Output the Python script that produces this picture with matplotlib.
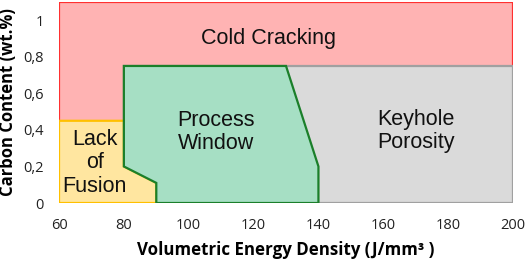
import matplotlib
matplotlib.use("Agg")
import matplotlib.pyplot as plt
from matplotlib.patches import Polygon

# region outlines (energy density J/mm3, carbon wt.%)
cold_x = [60, 200, 200, 60]
cold_y = [0, 0, 1.1, 1.1]
keyhole_x = [80, 200, 200, 80]
keyhole_y = [0, 0, 0.75, 0.75]
fusion_x = [60, 90, 90, 80, 80, 60]
fusion_y = [0, 0, 0.11, 0.2, 0.45, 0.45]
window_x = [80, 130, 140, 140, 90, 90, 80]
window_y = [0.75, 0.75, 0.2, 0, 0, 0.11, 0.2]

labels = ["Cold Cracking", "Keyhole\nPorosity", "Lack\nof\nFusion", "Process\nWindow"]
label_x = [124.5, 170, 71, 108.3]
label_y = [0.90, 0.395, 0.22, 0.39]

xticks = [60, 80, 100, 120, 140, 160, 180, 200]
yticks = [0, 0.2, 0.4, 0.6, 0.8, 1.0]
ytick_labels = ["0", "0,2", "0,4", "0,6", "0,8", "1"]

fig = plt.figure(figsize=(5.26, 2.60), dpi=100)
ax = fig.add_axes([0.1122, 0.2192, 0.8631, 0.7731])

regions = [
    (cold_x, cold_y, "#ffb3b3", "#ff3030"),
    (keyhole_x, keyhole_y, "#dadada", "#a0a0a0"),
    (fusion_x, fusion_y, "#ffe6a0", "#ffc000"),
    (window_x, window_y, "#a6dfc4", "#1b7f2a"),
]
for xs, ys, fc, ec in regions:
    ax.add_patch(Polygon(list(zip(xs, ys)), closed=True, facecolor=fc,
                         edgecolor=ec, linewidth=1.6, joinstyle="miter"))

for t, x, y in zip(labels, label_x, label_y):
    ax.text(x, y, t, ha="center", va="center", fontsize=15.5,
            family="Liberation Sans", color="#111111", linespacing=1.15)

ax.set_xlim(60, 200)
ax.set_ylim(0, 1.1)
ax.set_xticks(xticks)
ax.set_yticks(yticks)
ax.set_yticklabels(ytick_labels)
ax.tick_params(length=0, labelsize=10.5, colors="#222222", pad=11)
for lab in ax.get_xticklabels() + ax.get_yticklabels():
    lab.set_family("Open Sans")
for s in ax.spines.values():
    s.set_visible(False)

ax.set_xlabel("Volumetric Energy Density (J/mm³ )", fontsize=12.2,
              fontweight="bold", family="Open Sans")
ax.set_ylabel("Carbon Content (wt.%)", fontsize=12,
              fontweight="bold", family="Open Sans")
ax.xaxis.set_label_coords(0.5, -0.19)
ax.yaxis.set_label_coords(-0.092, 0.5)

fig.savefig("out.png", dpi=100)
